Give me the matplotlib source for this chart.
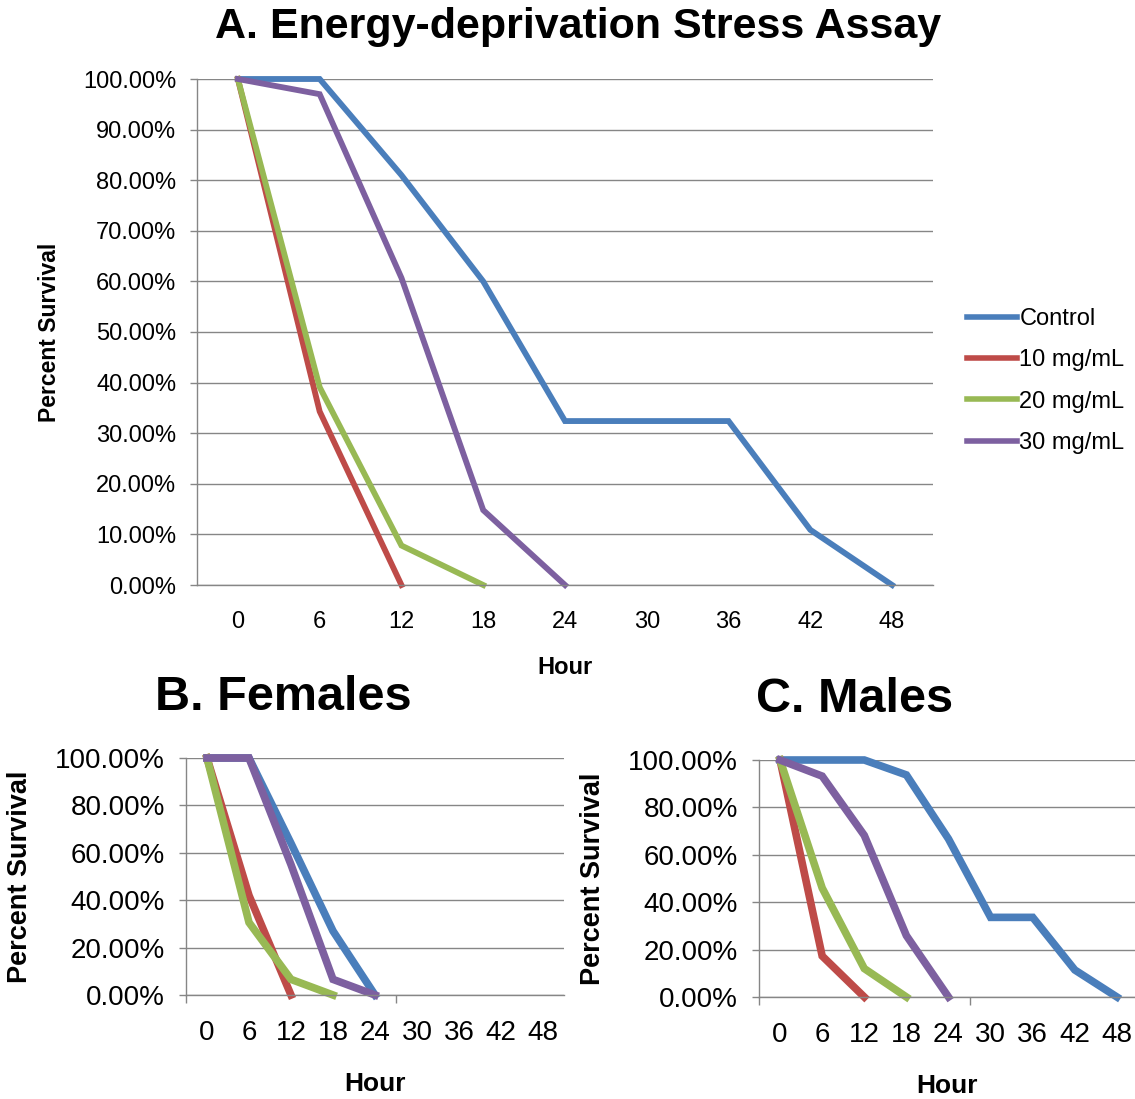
import numpy as np
import matplotlib
matplotlib.use("Agg")
import matplotlib.pyplot as plt

plt.rcParams['font.family'] = ['Liberation Sans', 'DejaVu Sans']

hours = ['0', '6', '12', '18', '24', '30', '36', '42', '48']
series_names = ['Control', '10 mg/mL', '20 mg/mL', '30 mg/mL']
colors = ['#4a7ebb', '#be4b48', '#98b954', '#7d60a0']
nan = np.nan

# A. Energy-deprivation stress assay (all flies)
all_control = [100, 100, 81, 60, 32.4, 32.4, 32.4, 10.9, 0]
all_10 = [100, 34.3, 0, nan, nan, nan, nan, nan, nan]
all_20 = [100, 39.1, 7.8, 0, nan, nan, nan, nan, nan]
all_30 = [100, 97.0, 60.7, 14.8, 0, nan, nan, nan, nan]

# B. Females
fem_control = [100, 100, 64, 27, 0, nan, nan, nan, nan]
fem_10 = [100, 42, 0, nan, nan, nan, nan, nan, nan]
fem_20 = [100, 30.6, 6.6, 0, nan, nan, nan, nan, nan]
fem_30 = [100, 100, 55, 6.6, 0, nan, nan, nan, nan]

# C. Males
male_control = [100, 100, 100, 93.7, 66.7, 33.6, 33.6, 11.4, 0]
male_10 = [100, 17.3, 0, nan, nan, nan, nan, nan, nan]
male_20 = [100, 46, 12, 0, nan, nan, nan, nan, nan]
male_30 = [100, 93.2, 68.2, 25.9, 0, nan, nan, nan, nan]

W, H = 1135, 1099
fig = plt.figure(figsize=(W / 100, H / 100), dpi=100)


def box(left, top, right, bottom):
    return [left / W, 1 - bottom / H, (right - left) / W, (bottom - top) / H]


def style_axis(ax, ystep, fs, xpad, ypad, xticks_marks):
    x = np.arange(len(hours))
    ax.set_xlim(-0.5, len(hours) - 0.5)
    ax.set_ylim(0, 100)
    ax.set_yticks(np.arange(0, 101, ystep))
    ax.set_yticklabels([f'{v:.2f}%' for v in np.arange(0, 101, ystep)], fontsize=fs)
    ax.set_xticks(x)
    ax.set_xticklabels(hours, fontsize=fs)
    ax.tick_params(axis='x', which='major', length=0, pad=xpad)
    ax.tick_params(axis='y', which='major', length=5, width=1, color='#868686', pad=ypad)
    if xticks_marks:
        ax.set_xticks([-0.5, 4.5], minor=True)
        ax.tick_params(axis='x', which='minor', length=6, width=1, color='#868686')
    ax.grid(axis='y', color='#868686', linewidth=1)
    ax.set_axisbelow(True)
    for s in ['top', 'right']:
        ax.spines[s].set_visible(False)
    for s in ['left', 'bottom']:
        ax.spines[s].set_color('#868686')
        ax.spines[s].set_linewidth(1)
    return x


def draw(ax, data, lw):
    x = np.arange(len(hours))
    lines = []
    for vals, name, c in zip(data, series_names, colors):
        ln, = ax.plot(x, vals, color=c, linewidth=lw, label=name,
                      solid_joinstyle='miter', clip_on=False)
        lines.append(ln)
    return lines


# Panel A
axA = fig.add_axes(box(197, 79, 933, 585))
style_axis(axA, 10, 17, 19, 10, False)
linesA = draw(axA, [all_control, all_10, all_20, all_30], 4.2)
axA.set_ylabel('Percent Survival', fontsize=16.5, fontweight='bold')
axA.yaxis.set_label_coords(-0.185, 0.5)
axA.set_xlabel('Hour', fontsize=17, fontweight='bold')
axA.xaxis.set_label_coords(0.5, -0.14)
fig.text(578 / W, 1 - 27 / H, 'A. Energy-deprivation Stress Assay',
         ha='center', va='center', fontsize=31, fontweight='bold')
fig.legend(handles=linesA, loc='center left', bbox_to_anchor=(967 / W, 1 - 381 / H),
           frameon=False, fontsize=17, handlelength=2.1, handletextpad=0.12,
           labelspacing=0.82, borderpad=0, borderaxespad=0)
for h in fig.legends[0].get_lines():
    h.set_linewidth(4)

# Panel B
axB = fig.add_axes(box(186, 758, 564, 995))
style_axis(axB, 20, 20, 18, 10, True)
draw(axB, [fem_control, fem_10, fem_20, fem_30], 5.5)
axB.set_ylabel('Percent Survival', fontsize=19.5, fontweight='bold')
axB.yaxis.set_label_coords(-0.405, 0.5)
axB.set_xlabel('Hour', fontsize=19, fontweight='bold')
axB.xaxis.set_label_coords(0.5, -0.325)
fig.text(283 / W, 1 - 697 / H, 'B. Females', ha='center', va='center',
         fontsize=35, fontweight='bold')

# Panel C
axC = fig.add_axes(box(759, 760, 1138, 997))
style_axis(axC, 20, 20, 18, 10, True)
draw(axC, [male_control, male_10, male_20, male_30], 5.5)
axC.set_ylabel('Percent Survival', fontsize=19.5, fontweight='bold')
axC.yaxis.set_label_coords(-0.405, 0.5)
axC.set_xlabel('Hour', fontsize=19, fontweight='bold')
axC.xaxis.set_label_coords(0.496, -0.325)
fig.text(855 / W, 1 - 700 / H, 'C. Males', ha='center', va='center',
         fontsize=35, fontweight='bold')

fig.savefig('out.png', dpi=100)
